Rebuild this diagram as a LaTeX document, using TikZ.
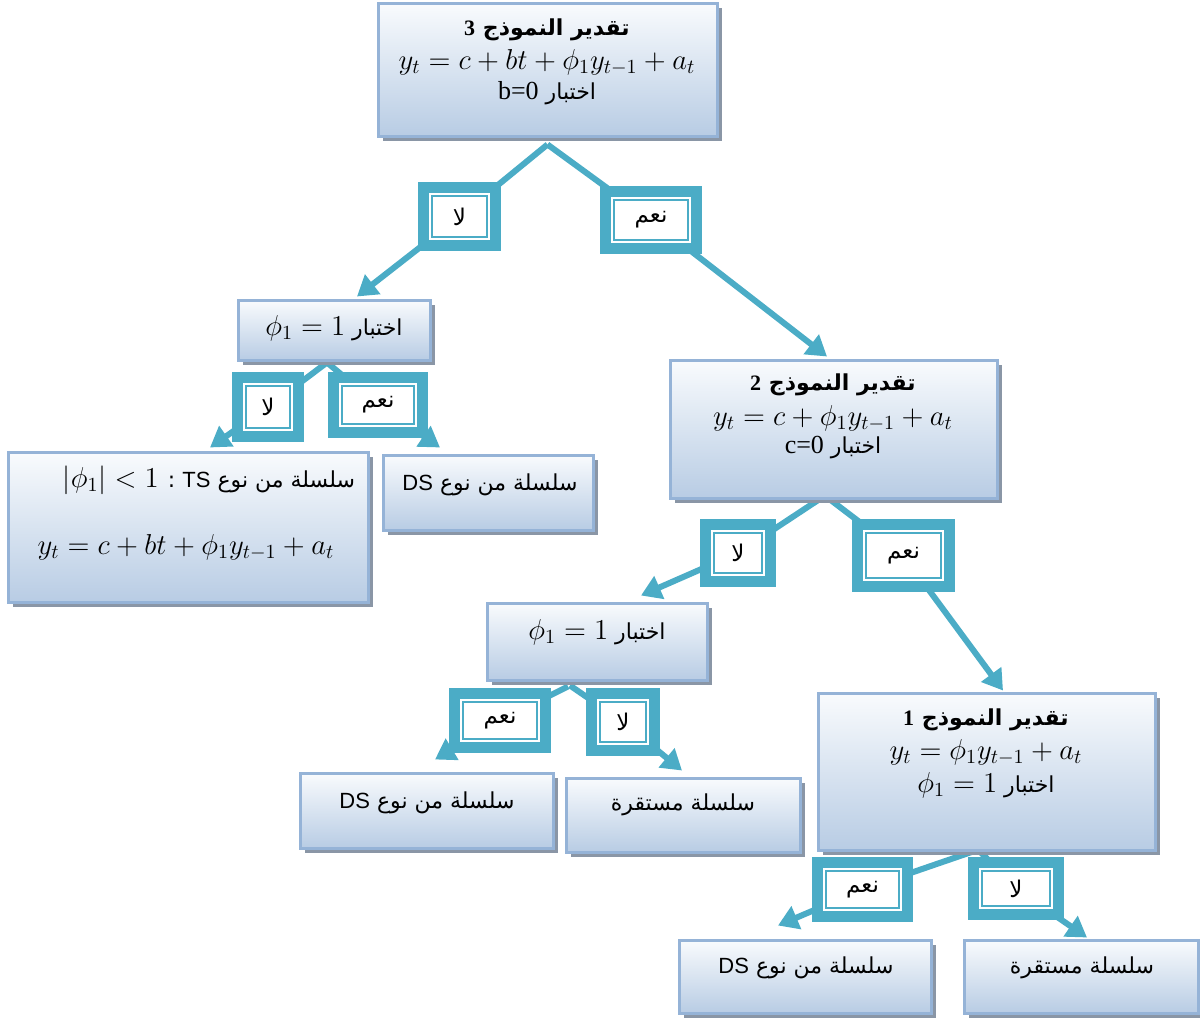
\documentclass[tikz,border=0pt]{standalone}
\usepackage[no-math]{fontspec}
\setmainfont{Liberation Serif}
\setsansfont{Liberation Sans}
\newfontfamily\arfont[Script=Arabic]{DejaVu Sans}
\TeXXeTstate=1
\usetikzlibrary{arrows.meta,shadows}
\newcommand\artxt[1]{{\arfont\beginR #1\endR}}
\newcommand\mth[1]{\hbox{\fontsize{14}{16}\selectfont$#1$}}
\newcommand\rmtxt[1]{\hbox{\fontsize{13}{15}\selectfont\rmfamily #1}}
\definecolor{linkteal}{HTML}{4BACC6}
\definecolor{boxedge}{HTML}{95B3D7}
\definecolor{boxtop}{HTML}{F9FBFD}
\definecolor{boxbot}{HTML}{B8CCE4}
\definecolor{boxshade}{HTML}{8A96A6}
\pgfdeclarelayer{bg}
\pgfsetlayers{bg,main}
\begin{document}
\begin{tikzpicture}[x=0.5pt,y=-0.5pt,
  box/.style={draw=boxedge, line width=1.5pt, top color=boxtop, bottom color=boxbot,
    drop shadow={shadow xshift=2.5pt, shadow yshift=-2.5pt, fill=boxshade, opacity=1},
    inner sep=0pt},
  txt/.style={align=center, inner sep=0pt, font=\fontsize{11}{15.5}\selectfont},
  head/.style={font=\fontsize{11}{12}\selectfont\bfseries},
  lab/.style={draw=linkteal, fill=white, line width=5.5pt, inner sep=0pt,
    font=\fontsize{11.5}{12}\selectfont,
    path picture={\draw[linkteal, line width=1pt]
      ([shift={(4.25pt,4.25pt)}]path picture bounding box.south west) rectangle
      ([shift={(-4.25pt,-4.25pt)}]path picture bounding box.north east);}},
  conn/.style={draw=linkteal, line width=3pt, -{Triangle[length=10pt,width=12pt]}}]
\useasboundingbox (0,0) rectangle (1200,1018);

% model boxes and result boxes
\node[box, minimum width=169.5pt, minimum height=66.5pt] (m3) at (547.5,69.5) {};
\node[box, minimum width=96pt, minimum height=30pt] (t3) at (334,330) {};
\node[box, minimum width=180pt, minimum height=75pt] (ts) at (188,527) {};
\node[box, minimum width=105pt, minimum height=37.5pt] (ds1) at (488,492.5) {};
\node[box, minimum width=163.5pt, minimum height=69pt] (m2) at (833.5,429) {};
\node[box, minimum width=110pt, minimum height=38.5pt] (t2) at (597,641.5) {};
\node[box, minimum width=126.5pt, minimum height=37.5pt] (ds2) at (426.5,810.5) {};
\node[box, minimum width=117pt, minimum height=37pt] (st2) at (683,815) {};
\node[box, minimum width=168.5pt, minimum height=78.5pt] (m1) at (986.5,771.5) {};
\node[box, minimum width=126pt, minimum height=36.5pt] (ds3) at (805,976.5) {};
\node[box, minimum width=117pt, minimum height=36.5pt] (st3) at (1081,976.5) {};

% texts of the boxes
\node[txt, head] (m3h) at (547,30) {\artxt{تقدير النموذج \textrm{3}}};
\node[txt] (m3f) at (547,62) {\mth{y_t = c + bt + \phi_1 y_{t-1} + a_t}};
\node[txt] (m3b) at (547,93) {\artxt{اختبار \rmtxt{b=0}}};
\node[txt] (t3t) at (334,328) {\artxt{اختبار \mth{\phi_1 = 1}}};
\node[txt] (tst1) at (209,480) {\artxt{سلسلة من نوع \hbox{\sffamily TS} : \mth{|\phi_1| < 1}}};
\node[txt] (tst2) at (186,547) {\mth{y_t = c + bt + \phi_1 y_{t-1} + a_t}};
\node[txt] (ds1t) at (490,485) {\artxt{سلسلة من نوع \hbox{\sffamily DS}}};
\node[txt, head] (m2h) at (833,385) {\artxt{تقدير النموذج \textrm{2}}};
\node[txt] (m2f) at (833,418) {\mth{y_t = c + \phi_1 y_{t-1} + a_t}};
\node[txt] (m2c) at (833,448) {\artxt{اختبار \rmtxt{c=0}}};
\node[txt] (t2t) at (597,632) {\artxt{اختبار \mth{\phi_1 = 1}}};
\node[txt] (ds2t) at (427,803) {\artxt{سلسلة من نوع \hbox{\sffamily DS}}};
\node[txt] (st2t) at (683,805) {\artxt{سلسلة مستقرة}};
\node[txt, head] (m1h) at (986,720) {\artxt{تقدير النموذج \textrm{1}}};
\node[txt] (m1f) at (986,752) {\mth{y_t = \phi_1 y_{t-1} + a_t}};
\node[txt] (m1p) at (986,785) {\artxt{اختبار \mth{\phi_1 = 1}}};
\node[txt] (ds3t) at (806,968) {\artxt{سلسلة من نوع \hbox{\sffamily DS}}};
\node[txt] (st3t) at (1082,968) {\artxt{سلسلة مستقرة}};

% yes / no labels
\node[lab, minimum width=36pt, minimum height=29pt] (L1) at (459.5,216.5) {\artxt{لا}};
\node[lab, minimum width=45.5pt, minimum height=28.5pt] (N1) at (651,220) {\artxt{نعم}};
\node[lab, minimum width=30.5pt, minimum height=29.5pt] (L2) at (268,407) {\artxt{لا}};
\node[lab, minimum width=44.5pt, minimum height=27.5pt] (N2) at (378,405) {\artxt{نعم}};
\node[lab, minimum width=32.5pt, minimum height=28.5pt] (L3) at (738,553) {\artxt{لا}};
\node[lab, minimum width=46pt, minimum height=31pt] (N3) at (903.5,555.5) {\artxt{نعم}};
\node[lab, minimum width=45.5pt, minimum height=27pt] (N4) at (500,720.5) {\artxt{نعم}};
\node[lab, minimum width=31.5pt, minimum height=28.5pt] (L4) at (623,722) {\artxt{لا}};
\node[lab, minimum width=45pt, minimum height=27pt] (N5) at (862.5,889.5) {\artxt{نعم}};
\node[lab, minimum width=42.5pt, minimum height=26pt] (L5) at (1016,888.5) {\artxt{لا}};

% connectors, passing under the labels
\begin{pgfonlayer}{bg}
\draw[conn] ([yshift=-3.5pt]m3.south) -- (L1.center) -- ([xshift=11.5pt,yshift=1pt]t3.north);
\draw[conn] ([yshift=-3.5pt]m3.south) -- (N1.center) -- ([xshift=-3.25pt,yshift=1pt]m2.north);
\draw[conn] ([xshift=-3.5pt,yshift=-0.5pt]t3.south) -- (L2.center) -- ([xshift=11pt,yshift=1.5pt]ts.north);
\draw[conn] ([xshift=-3.5pt,yshift=-0.5pt]t3.south) -- (N2.center) -- ([xshift=-24pt,yshift=3pt]ds1.north);
\draw[conn] ([xshift=-7.25pt]m2.south) -- (L3.center) -- ([xshift=22pt,yshift=3pt]t2.north);
\draw[conn] ([xshift=-1.75pt]m2.south) -- (N3.center) -- ([xshift=8.25pt,yshift=0.5pt]m1.north);
\draw[conn] ([xshift=-14.5pt,yshift=-2.5pt]t2.south) -- (N4.center) -- ([xshift=4.25pt,yshift=6pt]ds2.north);
\draw[conn] ([xshift=-13.5pt,yshift=-2pt]t2.south) -- (L4.center) -- ([xshift=-0.5pt,yshift=3pt]st2.north);
\draw[conn] ([xshift=-6.75pt]m1.south) -- (N5.center) -- ([xshift=-13.5pt,yshift=6.5pt]ds3.north);
\draw[conn] ([xshift=-4.25pt,yshift=1pt]m1.south) -- (L5.center) -- ([xshift=3pt,yshift=0.5pt]st3.north);
\end{pgfonlayer}
\end{tikzpicture}
\end{document}
